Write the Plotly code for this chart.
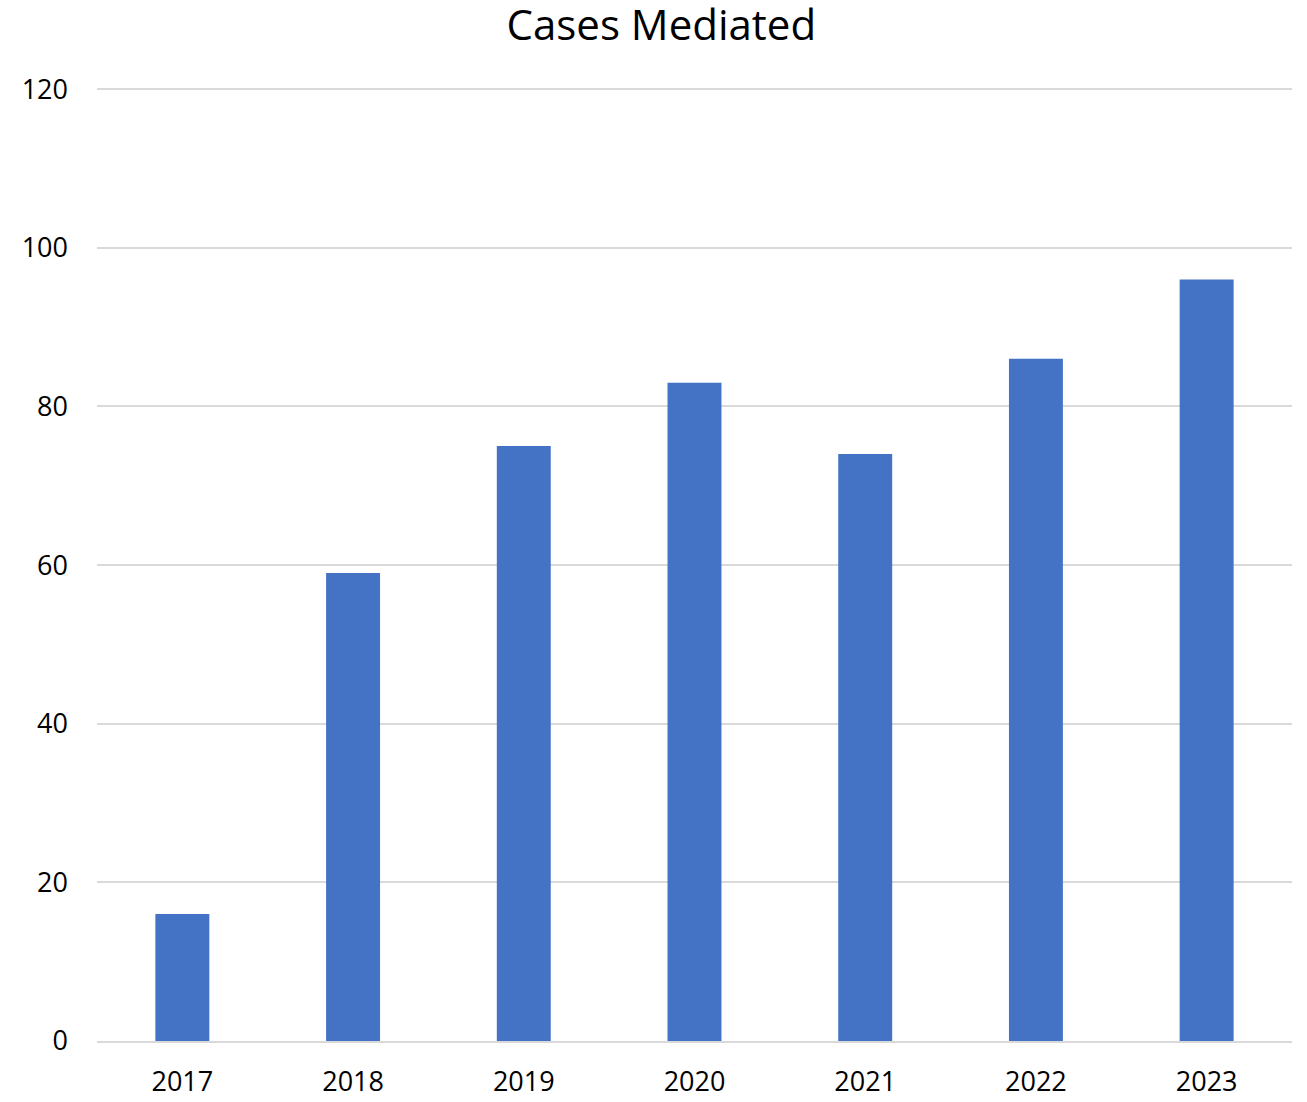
import plotly.graph_objects as go

years = ["2017", "2018", "2019", "2020", "2021", "2022", "2023"]
cases = [16, 59, 75, 83, 74, 86, 96]
y_ticks = [0, 20, 40, 60, 80, 100, 120]

fig = go.Figure(go.Bar(x=years, y=cases, marker_color="#4472C4", marker_line_width=0))

fig.update_layout(
    width=1307, height=1102,
    margin=dict(l=97, r=15, t=88, b=61),
    paper_bgcolor="white", plot_bgcolor="white",
    bargap=0.684,
    title=dict(text="Cases Mediated", x=0.506, xanchor="center", y=0.9905, yanchor="top",
               pad=dict(t=0),
               font=dict(family="Open Sans, Liberation Sans, sans-serif", size=42, color="black")),
    font=dict(family="Open Sans, Liberation Sans, sans-serif", size=27, color="black"),
    showlegend=False,
)
fig.update_yaxes(range=[0, 120.15], tickvals=y_ticks, showgrid=True, gridcolor="#d9d9d9", gridwidth=1.5,
                 zeroline=False, showline=False, ticks="", ticklabelstandoff=28,
                 automargin=False, tickfont=dict(size=27))
fig.update_xaxes(showline=True, linecolor="#d9d9d9", linewidth=1.5, ticks="",
                 ticklabelstandoff=16, automargin=False, tickfont=dict(size=27))

fig.write_html("out.html", config={"displayModeBar": False},
               post_script="document.body.style.margin='0';")
